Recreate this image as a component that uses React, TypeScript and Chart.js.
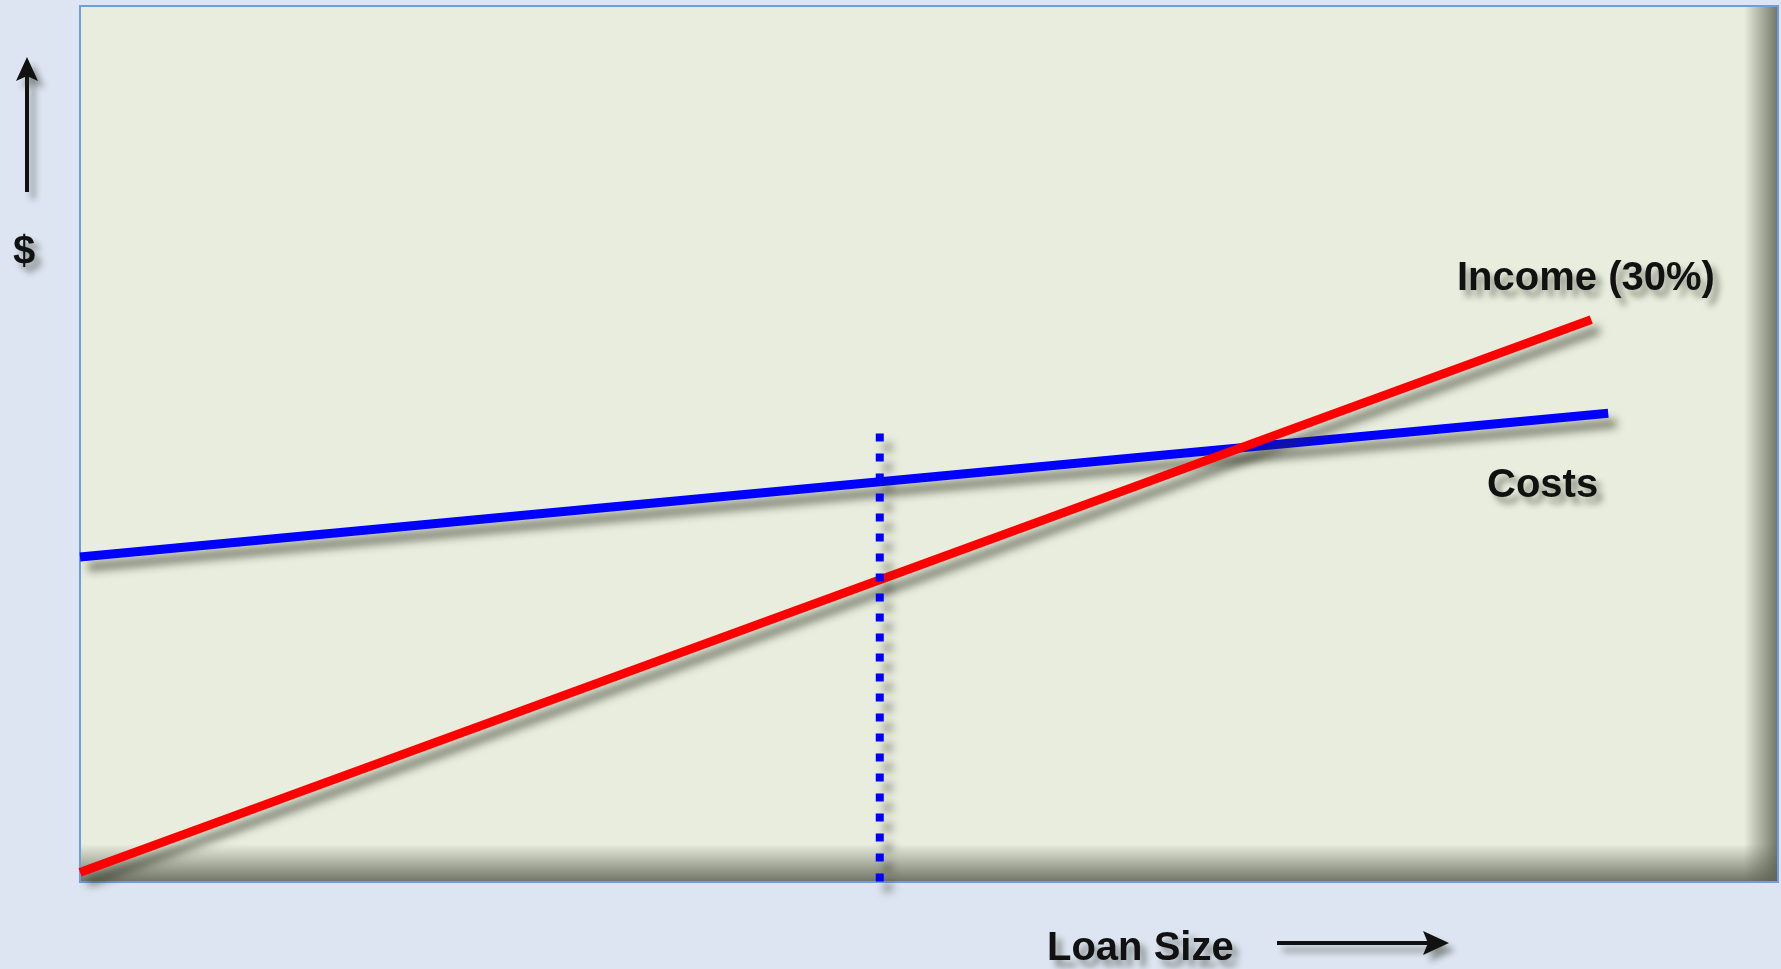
import React, { useEffect, useRef } from "react";
import { Chart, registerables } from "chart.js";

Chart.register(...registerables);

// Loan size (x) vs. dollars (y), arbitrary 0-100 units
const costX = [0, 90];
const costY = [37.1, 53.5];
const incomeX = [0, 89];
const incomeY = [1.1, 64.2];
const markerX = [47.1, 47.1];
const markerY = [51.2, -0.3];

const costLabel = "Costs";
const incomeLabel = "Income (30%)";
const xAxisLabel = "Loan Size";
const yAxisLabel = "$";

const W = 1781;
const H = 969;

const pts = (xs: number[], ys: number[]) => xs.map((x, i) => ({ x, y: ys[i] }));

const decorPlugin = {
  id: "decor",
  beforeDraw(chart: any) {
    const { ctx, chartArea: a } = chart;
    ctx.save();
    ctx.fillStyle = "rgb(220,229,241)";
    ctx.fillRect(0, 0, W, H);
    ctx.fillStyle = "rgb(233,237,221)";
    ctx.fillRect(a.left, a.top, a.right - a.left, a.bottom - a.top);
    // inner shadow right
    let g = ctx.createLinearGradient(a.right - 34, 0, a.right, 0);
    g.addColorStop(0, "rgba(90,95,80,0)");
    g.addColorStop(1, "rgba(90,95,80,0.85)");
    ctx.fillStyle = g;
    ctx.fillRect(a.right - 34, a.top, 34, a.bottom - a.top);
    // inner shadow bottom
    g = ctx.createLinearGradient(0, a.bottom - 38, 0, a.bottom);
    g.addColorStop(0, "rgba(90,95,80,0)");
    g.addColorStop(1, "rgba(90,95,80,0.85)");
    ctx.fillStyle = g;
    ctx.fillRect(a.left, a.bottom - 38, a.right - a.left, 38);
    ctx.strokeStyle = "rgb(110,157,228)";
    ctx.lineWidth = 2;
    ctx.strokeRect(a.left, a.top, a.right - a.left, a.bottom - a.top);
    ctx.restore();
  },
  beforeDatasetDraw(chart: any) {
    const ctx = chart.ctx;
    ctx.save();
    ctx.shadowColor = "rgba(40,45,30,0.55)";
    ctx.shadowBlur = 8;
    ctx.shadowOffsetX = 8;
    ctx.shadowOffsetY = 10;
  },
  afterDatasetDraw(chart: any) {
    chart.ctx.restore();
  },
  afterDraw(chart: any) {
    const ctx = chart.ctx;
    ctx.save();
    ctx.shadowColor = "rgba(40,45,30,0.45)";
    ctx.shadowBlur = 6;
    ctx.shadowOffsetX = 6;
    ctx.shadowOffsetY = 7;
    ctx.fillStyle = "#111";
    ctx.font = "bold 40px 'Liberation Sans', Arial, sans-serif";
    ctx.textBaseline = "alphabetic";
    ctx.textAlign = "left";
    ctx.fillText(incomeLabel, 1457, 290);
    ctx.fillText(costLabel, 1487, 497);
    ctx.fillText(xAxisLabel, 1047, 960);
    ctx.fillText(yAxisLabel, 13, 264);

    // up arrow
    ctx.strokeStyle = "#111";
    ctx.lineWidth = 4;
    ctx.beginPath();
    ctx.moveTo(27, 192);
    ctx.lineTo(27, 74);
    ctx.stroke();
    ctx.beginPath();
    ctx.moveTo(27, 57);
    ctx.lineTo(38, 81);
    ctx.lineTo(27, 76);
    ctx.lineTo(16, 81);
    ctx.closePath();
    ctx.fill();

    // right arrow
    ctx.beginPath();
    ctx.moveTo(1277, 943);
    ctx.lineTo(1430, 943);
    ctx.stroke();
    ctx.beginPath();
    ctx.moveTo(1449, 943);
    ctx.lineTo(1423, 931);
    ctx.lineTo(1428, 943);
    ctx.lineTo(1423, 955);
    ctx.closePath();
    ctx.fill();
    ctx.restore();
  },
};

export default function App() {
  const ref = useRef<HTMLCanvasElement | null>(null);
  useEffect(() => {
    document.body.style.margin = "0";
    const chart = new Chart(ref.current as HTMLCanvasElement, {
      type: "scatter",
      data: {
        datasets: [
          {
            label: "Marker",
            data: pts(markerX, markerY),
            showLine: true,
            borderColor: "rgb(0,0,255)",
            borderWidth: 8,
            borderDash: [8, 12],
            borderCapStyle: "butt",
            pointRadius: 0,
            clip: false,
            order: 0,
          },
          {
            label: incomeLabel,
            data: pts(incomeX, incomeY),
            showLine: true,
            borderColor: "rgb(255,0,0)",
            borderWidth: 9,
            pointRadius: 0,
            clip: false,
            order: 1,
          },
          {
            label: costLabel,
            data: pts(costX, costY),
            showLine: true,
            borderColor: "rgb(0,0,255)",
            borderWidth: 9,
            pointRadius: 0,
            clip: false,
            order: 2,
          },
        ],
      } as any,
      options: {
        responsive: false,
        animation: false,
        devicePixelRatio: 1,
        layout: { padding: { left: 80, top: 6, right: 3, bottom: 87 } },
        plugins: { legend: { display: false }, tooltip: { enabled: false } },
        scales: {
          x: { type: "linear", min: 0, max: 100, display: false },
          y: { type: "linear", min: 0, max: 100, display: false },
        },
      } as any,
      plugins: [decorPlugin],
    });
    return () => chart.destroy();
  }, []);
  return (
    <div style={{ position: "absolute", left: 0, top: 0, width: W, height: H }}>
      <canvas ref={ref} width={W} height={H} style={{ display: "block" }} />
    </div>
  );
}
